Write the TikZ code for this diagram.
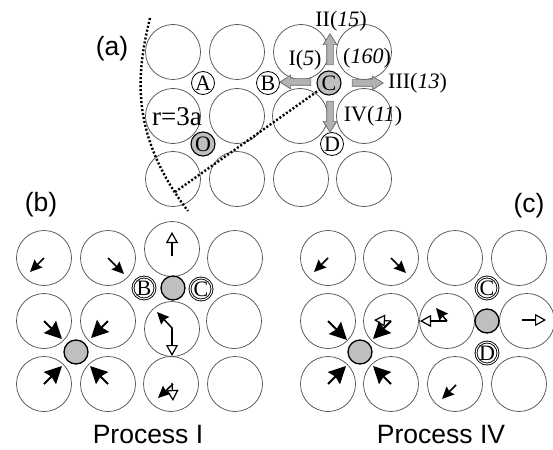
\documentclass[tikz,border=0pt]{standalone}
\usepackage{fontspec}
\setmainfont{Liberation Serif}
\newfontfamily\headfont{Liberation Sans}
\usetikzlibrary{arrows.meta,shapes.arrows}

\tikzset{
    site/.style={draw=black!70, circle, line width=0.7pt, minimum size=55pt, inner sep=0pt},
    small/.style={draw=black, circle, line width=0.8pt, minimum size=23pt, inner sep=0pt, font=\fontsize{22}{22}\selectfont},
    ringed/.style={small, line width=0.9pt, double, double distance=1pt, minimum size=22pt},
    atom/.style={draw=black, circle, fill=black!25, line width=1.3pt, minimum size=24pt, inner sep=0pt},
    oatom/.style={atom, line width=1.1pt, font=\fontsize{22}{22}\selectfont},
    jump/.style={single arrow, draw=black!60, fill=black!30, line width=0.7pt, minimum height=31pt, inner xsep=0pt, inner ysep=3pt,
        single arrow head extend=3.5pt, single arrow tip angle=65},
    blackarrow/.style={line width=1.5pt, -{Stealth[length=12pt, width=11pt, inset=1.5pt]}},
    bigarrow/.style={line width=2pt, -{Stealth[length=17pt, width=17pt, inset=2pt]}},
    whitearrow/.style={line width=1.2pt, -{Triangle[open, length=11pt, width=12pt, fill=white]}},
    rate/.style={inner sep=0pt, font=\fontsize{22}{22}\selectfont},
    head/.style={inner sep=0pt, font=\headfont\fontsize{26.5}{26.5}\selectfont},
    cut/.style={line width=2.4pt, dash pattern=on 2pt off 2pt},
}

\begin{document}
\begin{tikzpicture}[x=1pt, y=-1pt]
    \useasboundingbox (0,0) rectangle (553,449);

    % Panel a, sites
    \node (a11) [site] at (173,52) {};
    \node (a12) [site] at (237,52) {};
    \node (a13) [site] at (301,52) {};
    \node (a14) [site] at (364,52) {};
    \node (a21) [site] at (173,116) {};
    \node (a22) [site] at (237,116) {};
    \node (a23) [site] at (300,116) {};
    \node (a24) [site] at (364,116) {};
    \node (a31) [site] at (173,179) {};
    \node (a32) [site] at (237,179) {};
    \node (a33) [site] at (301,179) {};
    \node (a34) [site] at (364,179) {};

    % Cut-off radius
    \coordinate (arcTop) at (150,18);
    \coordinate (arcEnd) at (188,211);
    \coordinate (radiusEnd) at (175,192);
    \draw[cut] (arcTop) .. controls (136,75) and (130,135) .. (arcEnd);

    % Panel a, small atoms and labels
    \node (Apoint) [small] at (203,83) {A};
    \node (Bpoint) [small] at (268,83) {B};
    \node (Cpoint) [oatom] at (329,83) {C};
    \node (Dpoint) [small] at (332,144) {D};
    \node (Opoint) [oatom] at (203,144) {O};
    \draw[cut] (radiusEnd) -- (Cpoint);

    % Jumps out of C
    \node (jumpI) [jump, rotate=180] at (298,82) {};
    \node (jumpII) [jump, rotate=90] at (330,52) {};
    \node (jumpIII) [jump] at (365,83) {};
    \node (jumpIV) [jump, rotate=270] at (330,114) {};

    \node (rateI) [rate] at (305,60) {I(\textit{5})};
    \node (rateII) [rate] at (341,21) {II(\textit{15})};
    \node (rateC) [rate] at (367,58) {(\textit{160})};
    \node (rateIII) [rate, anchor=west] at (388,83) {III(\textit{13})};
    \node (rateIV) [rate] at (373,116) {IV(\textit{11})};
    \node (radius) [inner sep=0pt, font=\fontsize{27}{27}\selectfont] at (177,117) {r=3a};

    % Panel b, sites
    \node (b11) [site] at (44,258) {};
    \node (b12) [site] at (108,258) {};
    \node (b13) [site] at (172,249) {};
    \node (b14) [site] at (235,258) {};
    \node (b21) [site] at (44,321) {};
    \node (b22) [site] at (108,321) {};
    \node (b23) [site] at (172,329) {};
    \node (b24) [site] at (234,321) {};
    \node (b31) [site] at (44,384) {};
    \node (b32) [site] at (108,384) {};
    \node (b33) [site] at (171,384) {};
    \node (b34) [site] at (235,384) {};

    \node (bO) [atom] at (76,352) {};
    \node (bAtom) [atom] at (173,288) {};
    \node (bB) [ringed] at (144,288) {B};
    \node (bC) [ringed] at (201,289) {C};

    % Panel b, displacements
    \draw[blackarrow] (b11.center) -- +(-14,14);
    \draw[blackarrow] (b12.center) -- +(16,16);
    \draw[bigarrow] (b21.center) -- +(18,18);
    \draw[bigarrow] (b22.center) -- +(-17,17);
    \draw[bigarrow] (b31.center) -- +(18,-18);
    \draw[bigarrow] (b32.center) -- +(-18,-18);
    \draw[whitearrow] (b13.center) ++(0,7) -- +(0,-24);
    \draw[whitearrow] (b23.center) -- +(0,27);
    \draw[blackarrow] (b23.center) -- +(0,-1) -- +(-15,-17);
    \draw[whitearrow] (b33.center) ++(1,-1) -- +(1,18);
    \draw[blackarrow] (b33.center) ++(2,0) -- +(-15,14);

    % Panel c, sites
    \node (c11) [site] at (328,258) {};
    \node (c12) [site] at (391,258) {};
    \node (c13) [site] at (455,258) {};
    \node (c14) [site] at (519,258) {};
    \node (c21) [site] at (328,321) {};
    \node (c22) [site] at (391,321) {};
    \node (c23) [site] at (447,321) {};
    \node (c24) [site] at (527,321) {};
    \node (c31) [site] at (328,384) {};
    \node (c32) [site] at (391,384) {};
    \node (c33) [site] at (455,384) {};
    \node (c34) [site] at (519,384) {};

    \node (cO) [atom] at (360,352) {};
    \node (cAtom) [atom] at (487,321) {};
    \node (cC) [ringed] at (487,288) {C};
    \node (cD) [ringed] at (487,353) {D};

    % Panel c, displacements
    \draw[blackarrow] (c11.center) -- +(-14,14);
    \draw[blackarrow] (c12.center) -- +(15,15);
    \draw[bigarrow] (c21.center) -- +(19,19);
    \draw[whitearrow] (c22.center) -- +(-17,-1);
    \draw[bigarrow] (c22.center) -- +(-18,18);
    \draw[bigarrow] (c31.center) -- +(18,-18);
    \draw[bigarrow] (c32.center) -- +(-18,-18);
    \draw[whitearrow] (c23.center) -- +(-27,0);
    \draw[blackarrow] (c23.center) -- +(-11,-13);
    \draw[whitearrow] (c24.center) ++(-5,-1) -- +(24,0);
    \draw[blackarrow] (c33.center) ++(1,1) -- +(-14,14);

    % Panel letters and captions
    \node (panelA) [head] at (112,49) {(a)};
    \node (panelB) [head] at (41,205) {(b)};
    \node (panelC) [head] at (529,206) {(c)};
    \node (captionB) [head, anchor=base] at (148,443) {Process I};
    \node (captionC) [head, anchor=base] at (441,443) {Process IV};

\end{tikzpicture}
\end{document}
